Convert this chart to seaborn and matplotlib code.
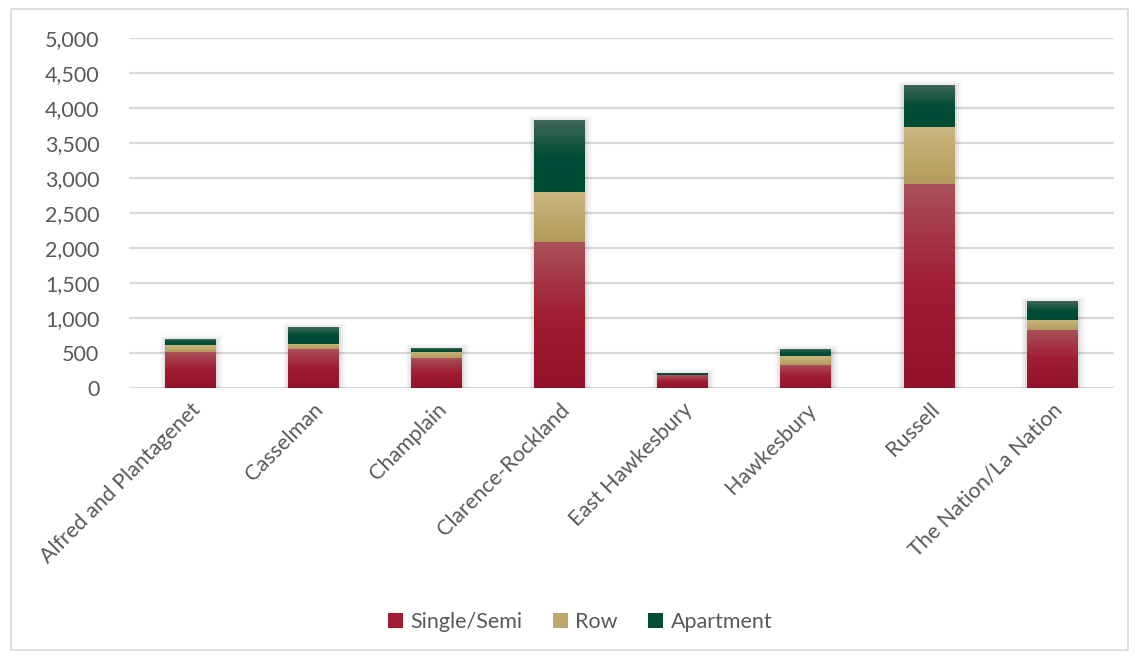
import numpy as np
import pandas as pd
import matplotlib
matplotlib.use("Agg")
import matplotlib.pyplot as plt
import matplotlib.patheffects as pe
from matplotlib.colors import LinearSegmentedColormap
from matplotlib.patches import Rectangle, Patch
import seaborn as sns

# Housing units by municipality and dwelling type
municipalities = [
    "Alfred and Plantagenet", "Casselman", "Champlain", "Clarence-Rockland",
    "East Hawkesbury", "Hawkesbury", "Russell", "The Nation/La Nation",
]
single_semi = [523, 561, 433, 2090, 183, 333, 2923, 833]
row = [96, 72, 86, 714, 7, 128, 810, 143]
apartment = [85, 243, 57, 1029, 29, 100, 600, 271]

series_names = ["Single/Semi", "Row", "Apartment"]
yticks = [0, 500, 1000, 1500, 2000, 2500, 3000, 3500, 4000, 4500, 5000]

# gradient stops (top, middle, bottom) for each dwelling type
stops = {
    "Single/Semi": ["#AA525C", "#A01D33", "#91122A"],
    "Row": ["#CAB680", "#BEA86C", "#B39C5C"],
    "Apartment": ["#43695B", "#024D37", "#004A34"],
}
base = {k: v[1] for k, v in stops.items()}

df = pd.DataFrame({
    "Municipality": municipalities,
    "Single/Semi": single_semi,
    "Row": row,
    "Apartment": apartment,
})
df["c1"] = df["Single/Semi"]
df["c2"] = df["c1"] + df["Row"]
df["c3"] = df["c2"] + df["Apartment"]

sns.set_theme(style="white")
plt.rcParams["font.family"] = ["Lato", "DejaVu Sans"]
text_color = "#595959"
grid_color = "#D9D9D9"
fs = 15.5

W, H = 1135, 656
fig = plt.figure(figsize=(W / 100, H / 100), dpi=100)
ax = fig.add_axes([128.5 / W, 1 - 388.3 / H, 985 / W, 350 / H])

# outer chart frame
fig.patches.append(Rectangle((11 / W, 6 / H), 1117 / W, 641 / H, transform=fig.transFigure,
                             fill=False, edgecolor=grid_color, linewidth=1.2))

width = 0.41
layers = [("c3", "Apartment", "c2"), ("c2", "Row", "c1"), ("c1", "Single/Semi", None)]
shadow = [pe.Stroke(linewidth=9, foreground="black", alpha=0.03, offset=(0.5, -1.5)),
          pe.Stroke(linewidth=6, foreground="black", alpha=0.04, offset=(0.5, -1.5)),
          pe.Stroke(linewidth=3, foreground="black", alpha=0.06, offset=(0.5, -1.5)),
          pe.Normal()]

for col, name, lower in layers:
    n_before = len(ax.patches)
    sns.barplot(data=df, x="Municipality", y=col, color=base[name], width=width,
                saturation=1, ax=ax, linewidth=0, zorder=3)
    patches = ax.patches[n_before:]
    cmap = LinearSegmentedColormap.from_list(name, stops[name])
    grad = np.linspace(0, 1, 256).reshape(-1, 1)
    for i, p in enumerate(patches):
        if col == "c3":
            p.set_path_effects(shadow)
        x0 = p.get_x()
        y_top = df[col].iloc[i]
        y_bot = 0 if lower is None else df[lower].iloc[i]
        if y_top - y_bot <= 0:
            continue
        im = ax.imshow(grad, cmap=cmap, aspect="auto", origin="upper",
                       extent=[x0, x0 + p.get_width(), y_bot, y_top],
                       zorder=4, interpolation="bilinear")
        im.set_clip_path(p)

ax.set_xlim(-0.5, len(municipalities) - 0.5)
ax.set_ylim(0, 5000)
ax.set_yticks(yticks)
ax.set_yticklabels([f"{v:,}" for v in yticks])
ax.yaxis.grid(True, color=grid_color, linewidth=1.6, zorder=0)
ax.set_axisbelow(True)
for s in ax.spines.values():
    s.set_visible(False)
ax.set_xlabel("")
ax.set_ylabel("")
ax.tick_params(axis="y", length=0, pad=21, labelsize=fs, labelcolor=text_color)
ax.tick_params(axis="x", length=0, pad=8, labelsize=fs, labelcolor=text_color)
ax.set_xticks(range(len(municipalities)))
ax.set_xticklabels(municipalities, rotation=45, ha="right", va="top", rotation_mode="anchor")
for lbl in ax.get_xticklabels():
    lbl.set_x(lbl.get_position()[0])

handles = [Patch(facecolor=base[n], edgecolor="none") for n in series_names]
fig.legend(handles, series_names, loc="center", bbox_to_anchor=(580 / W, 1 - 622 / H),
           ncol=3, frameon=False, fontsize=fs, labelcolor=text_color,
           handlelength=0.7, handleheight=0.7, handletextpad=0.35, columnspacing=1.4)

fig.savefig("out.png", dpi=100)
